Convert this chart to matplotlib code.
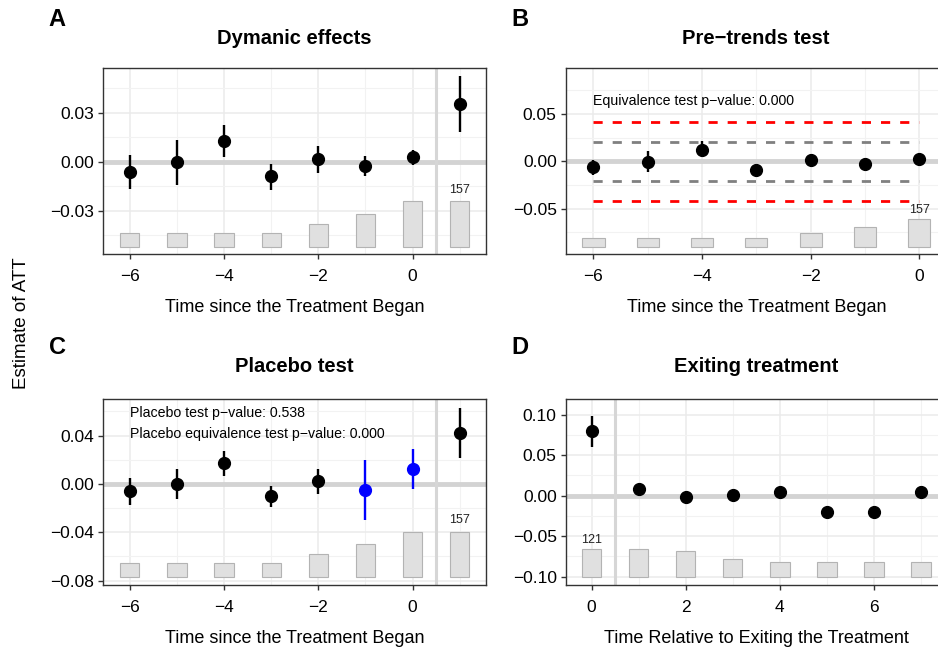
import matplotlib
matplotlib.use("Agg")
import matplotlib.pyplot as plt
from matplotlib.ticker import FixedLocator
import numpy as np

plt.rcParams['font.family'] = ['Liberation Sans', 'DejaVu Sans']

# ---------------- data ----------------
# Panel A: dynamic effects
a_x = [-6, -5, -4, -3, -2, -1, 0, 1]
a_est = [-0.0066, -0.0004, 0.0125, -0.0091, 0.0017, -0.0025, 0.0027, 0.0352]
a_lo = [-0.0168, -0.0142, 0.0027, -0.0172, -0.0070, -0.0090, -0.0020, 0.0185]
a_hi = [0.0043, 0.0134, 0.0222, -0.0012, 0.0097, 0.0037, 0.0072, 0.0526]
a_count = [49, 49, 49, 49, 79, 114, 157, 157]

# Panel B: pre-trends test
b_x = [-6, -5, -4, -3, -2, -1, 0]
b_est = [-0.0059, -0.0003, 0.0120, -0.0091, 0.0015, -0.0027, 0.0025]
b_lo = [-0.0140, -0.0116, 0.0046, -0.0150, -0.0050, -0.0080, -0.0020]
b_hi = [0.0018, 0.0113, 0.0210, -0.0030, 0.0080, 0.0030, 0.0070]
b_count = [49, 49, 49, 49, 79, 114, 157]
b_equiv_bound = 0.0417
b_min_bound = 0.0207

# Panel C: placebo test
c_x = [-6, -5, -4, -3, -2, -1, 0, 1]
c_est = [-0.0058, 0.0000, 0.0170, -0.0096, 0.0022, -0.0050, 0.0126, 0.0423]
c_lo = [-0.0171, -0.0124, 0.0069, -0.0187, -0.0082, -0.0297, -0.0041, 0.0211]
c_hi = [0.0046, 0.0120, 0.0269, -0.0014, 0.0120, 0.0200, 0.0289, 0.0632]
c_placebo = [False, False, False, False, False, True, True, False]
c_count = [49, 49, 49, 49, 79, 114, 157, 157]

# Panel D: exiting treatment
d_x = [0, 1, 2, 3, 4, 5, 6, 7]
d_est = [0.0800, 0.0079, -0.0012, 0.0009, 0.0042, -0.0201, -0.0201, 0.0050]
d_lo = [0.0598, 0.0040, -0.0050, -0.0030, -0.0030, -0.0250, -0.0250, -0.0030]
d_hi = [0.0985, 0.0110, 0.0030, 0.0040, 0.0110, -0.0150, -0.0150, 0.0120]
d_count = [121, 121, 115, 79, 66, 66, 66, 66]

W, H = 938, 647
fig = plt.figure(figsize=(W / 100, H / 100), dpi=100)


def px_axes(l, t, r, b):
    return fig.add_axes([l / W, 1 - b / H, (r - l) / W, (b - t) / H])


def style(ax, xlim, ylim, xmaj, xmin, ymaj, ymin, yfmt):
    ax.set_xlim(*xlim)
    ax.set_ylim(*ylim)
    ax.xaxis.set_major_locator(FixedLocator(xmaj))
    ax.xaxis.set_minor_locator(FixedLocator(xmin))
    ax.yaxis.set_major_locator(FixedLocator(ymaj))
    ax.yaxis.set_minor_locator(FixedLocator(ymin))
    ax.set_yticklabels([yfmt.format(v).replace('-', '\u2212') for v in ymaj])
    ax.set_xticklabels([str(v).replace('-', '\u2212') for v in xmaj])
    ax.grid(which='major', color='#ebebeb', lw=1.1, zorder=0)
    ax.grid(which='minor', color='#f2f2f2', lw=0.8, zorder=0)
    ax.set_axisbelow(True)
    for s in ax.spines.values():
        s.set_color('#333333')
        s.set_linewidth(1.0)
    ax.tick_params(which='major', length=3.5, width=1.0, color='#333333',
                   labelsize=12.5, labelcolor='black')
    ax.tick_params(axis='x', which='major', pad=7.0)
    ax.tick_params(axis='y', which='major', pad=3.0)
    ax.tick_params(which='minor', length=0)
    ax.axhline(0, color='#d3d3d3', lw=3.5, zorder=1)


def bars(ax, xs, counts, base, hmax, label_idx):
    cmax = max(counts)
    heights = [c / cmax * hmax for c in counts]
    ax.bar(xs, heights, width=0.41, bottom=base, color='#e0e0e0',
           edgecolor='#b3b3b3', linewidth=0.8, zorder=2)
    i = label_idx
    ax.text(xs[i], base + heights[i] + hmax * 0.12, str(counts[i]),
            ha='center', va='bottom', fontsize=9, color='#222222', zorder=5)


def points(ax, xs, est, lo, hi, colors):
    for x, e, l, h, c in zip(xs, est, lo, hi, colors):
        ax.plot([x, x], [l, h], color=c, lw=1.7, zorder=4, solid_capstyle='butt')
        ax.plot([x], [e], 'o', color=c, ms=8.5, zorder=5)


# ---- Panel A ----
axA = px_axes(103, 68, 486, 254)
style(axA, (-6.567, 1.556), (-0.0567, 0.0575), [-6, -4, -2, 0], [-5, -3, -1, 1],
      [-0.03, 0.0, 0.03], [-0.045, -0.015, 0.015, 0.045], '{:.2f}')
axA.axvline(0.5, color='#d6d6d6', lw=2.2, zorder=1)
bars(axA, a_x, a_count, -0.0525, 0.0283, len(a_x) - 1)
points(axA, a_x, a_est, a_lo, a_hi, ['black'] * len(a_x))
axA.set_xlabel('Time since the Treatment Began', fontsize=13, labelpad=11)

# ---- Panel B ----
axB = px_axes(565.7, 68, 947, 254)
style(axB, (-6.51, 0.51), (-0.0979, 0.0986), [-6, -4, -2, 0], [-5, -3, -1],
      [-0.05, 0.0, 0.05], [-0.075, -0.025, 0.025, 0.075], '{:.2f}')
bars(axB, b_x, b_count, -0.0905, 0.0296, len(b_x) - 1)
for v, c in [(b_equiv_bound, 'red'), (-b_equiv_bound, 'red'),
             (b_min_bound, 'grey'), (-b_min_bound, 'grey')]:
    axB.hlines(v, b_x[0], b_x[-1], colors=c, lw=2.0, linestyles=(0, (3.3, 3.6)), zorder=3)
points(axB, b_x, b_est, b_lo, b_hi, ['black'] * len(b_x))
axB.text(-6, 0.0634, 'Equivalence test p\u2212value: 0.000', fontsize=10.2,
         ha='left', va='center')
axB.set_xlabel('Time since the Treatment Began', fontsize=13, labelpad=11)

# ---- Panel C ----
axC = px_axes(103, 399, 486, 585)
style(axC, (-6.567, 1.556), (-0.0836, 0.0703), [-6, -4, -2, 0], [-5, -3, -1, 1],
      [-0.08, -0.04, 0.0, 0.04], [-0.06, -0.02, 0.02, 0.06], '{:.2f}')
axC.axvline(0.5, color='#d6d6d6', lw=2.2, zorder=1)
bars(axC, c_x, c_count, -0.0767, 0.0371, len(c_x) - 1)
points(axC, c_x, c_est, c_lo, c_hi, ['blue' if p else 'black' for p in c_placebo])
axC.text(-6, 0.0590, 'Placebo test p\u2212value: 0.538', fontsize=10.2, ha='left', va='center')
axC.text(-6, 0.0412, 'Placebo equivalence test p\u2212value: 0.000', fontsize=10.2,
         ha='left', va='center')
axC.set_xlabel('Time since the Treatment Began', fontsize=13, labelpad=11)

# ---- Panel D ----
axD = px_axes(565.7, 399, 947, 585)
style(axD, (-0.55, 7.55), (-0.1103, 0.1194), [0, 2, 4, 6], [1, 3, 5, 7],
      [-0.10, -0.05, 0.0, 0.05, 0.10], [-0.075, -0.025, 0.025, 0.075], '{:.2f}')
axD.axvline(0.5, color='#d6d6d6', lw=2.2, zorder=1)
bars(axD, d_x, d_count, -0.100, 0.0338, 0)
points(axD, d_x, d_est, d_lo, d_hi, ['black'] * len(d_x))
axD.set_xlabel('Time Relative to Exiting the Treatment', fontsize=13, labelpad=11)

# ---- titles & labels ----
fig.text(294.5 / W, 1 - 38 / H, 'Dymanic effects', ha='center', va='center',
         fontsize=14.5, fontweight='bold')
fig.text(756 / W, 1 - 38 / H, 'Pre\u2212trends test', ha='center', va='center',
         fontsize=14.5, fontweight='bold')
fig.text(294.5 / W, 1 - 366 / H, 'Placebo test', ha='center', va='center',
         fontsize=14.5, fontweight='bold')
fig.text(756 / W, 1 - 366 / H, 'Exiting treatment', ha='center', va='center',
         fontsize=14.5, fontweight='bold')
for lab, x, y in [('A', 57, 20), ('B', 520, 20), ('C', 57, 348), ('D', 520, 348)]:
    fig.text(x / W, 1 - y / H, lab, ha='center', va='center', fontsize=17,
             fontweight='bold')
fig.text(22 / W, 1 - 323 / H, 'Estimate of ATT', rotation=90, ha='center',
         va='center', fontsize=13.5)

fig.savefig('out.png', dpi=100, facecolor='white')
